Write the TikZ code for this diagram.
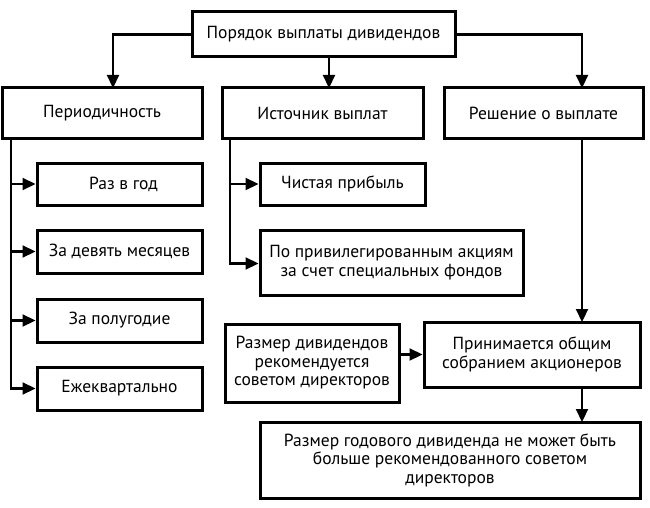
\documentclass[tikz,border=0pt]{standalone}
\usepackage{fontspec}
\setmainfont{PT Sans}
\usetikzlibrary{arrows.meta}
\begin{document}
\begin{tikzpicture}[x=1pt,y=-1pt,
  box/.style={draw,line width=3pt,rectangle,inner sep=2pt,align=center,font=\fontsize{17.5}{18.5}\selectfont},
  conn/.style={line width=2.2pt,-{Triangle[length=13pt,width=12pt]}}]
\useasboundingbox (0,0) rectangle (650,508);
\node[box,minimum width=263,minimum height=45] (top) at (323.5,34.5) {Порядок выплаты дивидендов};
\node[box,minimum width=200,minimum height=50] (per) at (102,113) {Периодичность};
\node[box,minimum width=201,minimum height=50] (ist) at (322.5,113) {Источник выплат};
\node[box,minimum width=199,minimum height=50] (resh) at (543.5,113) {Решение о выплате};
\node[box,minimum width=165,minimum height=42] (raz) at (119.5,184) {\hspace{8pt}Раз в год};
\node[box,minimum width=165,minimum height=43] (dev) at (119.5,251.5) {За девять месяцев};
\node[box,minimum width=165,minimum height=43] (pol) at (119.5,320.5) {За полугодие};
\node[box,minimum width=165,minimum height=43] (ezh) at (119.5,388.5) {Ежеквартально};
\node[box,minimum width=165,minimum height=42] (chist) at (342.5,184) {Чистая прибыль};
\node[box,minimum width=263,minimum height=65] (priv) at (391.5,262.5) {По привилегированным акциям\\за счет специальных фондов};
\node[box,minimum width=174,minimum height=78] (razm) at (312,363) {Размер дивидендов\\рекомендуется\\советом директоров};
\node[box,minimum width=216,minimum height=65] (prin) at (532,354.5) {Принимается общим\\собранием акционеров};
\node[box,minimum width=380,minimum height=76] (bot) at (450,460) {Размер годового дивиденда не может быть\\больше рекомендованного советом\\директоров};
\coordinate (pt) at (113,88);
\coordinate (it) at (329,88);
\coordinate (rt) at (582,88);
\coordinate (pv) at (11,138);
\coordinate (iv) at (230,138);
\coordinate (rv) at (582,138);
\coordinate (pr) at (582,322);
\coordinate (pb) at (582,387);
\coordinate (bt) at (582,422);
\draw[conn] (top.west) -| (pt);
\draw[conn] (top.east) -| (rt);
\draw[conn] (it |- top.south) -- (it);
\draw[conn] (pv) |- (raz.west);
\draw[conn] (pv) |- (dev.west);
\draw[conn] (pv) |- (pol.west);
\draw[conn] (pv) |- (ezh.west);
\draw[conn] (iv) |- (chist.west);
\draw[conn] (iv) |- ([yshift=-1pt]priv.west);
\draw[conn] (rv) -- (pr);
\draw[conn] (razm.east |- prin.west) -- (prin.west);
\draw[conn] (pb) -- (bt);
\end{tikzpicture}
\end{document}
